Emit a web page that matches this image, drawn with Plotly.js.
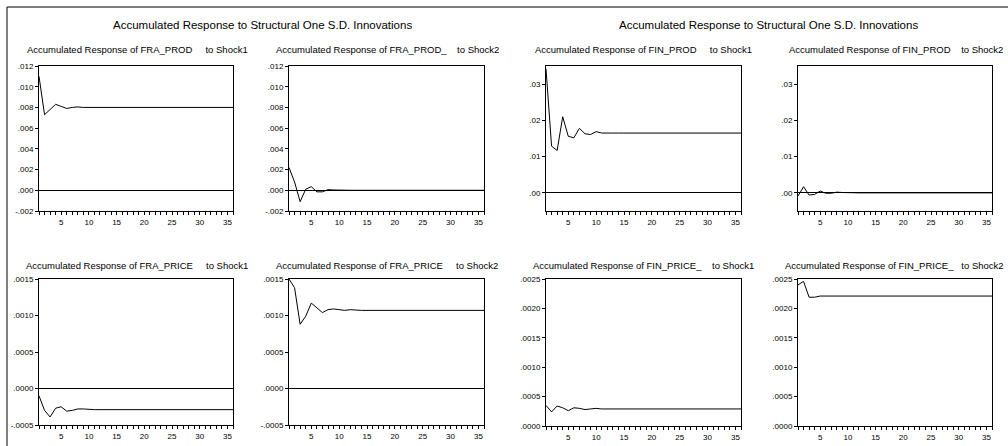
<!DOCTYPE html>
<html>
<head>
<meta charset="utf-8">
<script src="https://cdn.plot.ly/plotly-3.0.1.min.js"></script>
<style>
html,body{margin:0;padding:0;background:#fff;}
#chart{width:1008px;height:446px;}
</style>
</head>
<body>
<div id="chart"></div>
<script>
// ---------------- DATA ----------------
const periods = [1,2,3,4,5,6,7,8,9,10,11,12,13,14,15,16,17,18,19,20,21,22,23,24,25,26,27,28,29,30,31,32,33,34,35,36];

const fraProdShock1 = [0.0110,0.0073,0.0078,0.0083,0.0081,0.0079,0.0080,0.00805,0.0080,0.0080,0.0080,0.0080,0.0080,0.0080,0.0080,0.0080,0.0080,0.0080,0.0080,0.0080,0.0080,0.0080,0.0080,0.0080,0.0080,0.0080,0.0080,0.0080,0.0080,0.0080,0.0080,0.0080,0.0080,0.0080,0.0080,0.0080];
const fraProdShock2 = [0.0022,0.0008,-0.0011,0.0001,0.00035,-0.00015,-0.00015,0.00006,0.00003,0.0000,0.0000,0.0000,0.0000,0.0000,0.0000,0.0000,0.0000,0.0000,0.0000,0.0000,0.0000,0.0000,0.0000,0.0000,0.0000,0.0000,0.0000,0.0000,0.0000,0.0000,0.0000,0.0000,0.0000,0.0000,0.0000,0.0000];
const finProdShock1 = [0.0342,0.0129,0.0117,0.0210,0.0156,0.0152,0.0178,0.0163,0.0161,0.0169,0.0165,0.0164,0.0165,0.0165,0.0165,0.0165,0.0165,0.0165,0.0165,0.0165,0.0165,0.0165,0.0165,0.0165,0.0165,0.0165,0.0165,0.0165,0.0165,0.0165,0.0165,0.0165,0.0165,0.0165,0.0165,0.0165];
const finProdShock2 = [-0.0009,0.0017,-0.0006,-0.0004,0.0005,-0.0001,-0.0001,0.0002,0.0001,0.0000,0.0000,0.0000,0.0000,0.0000,0.0000,0.0000,0.0000,0.0000,0.0000,0.0000,0.0000,0.0000,0.0000,0.0000,0.0000,0.0000,0.0000,0.0000,0.0000,0.0000,0.0000,0.0000,0.0000,0.0000,0.0000,0.0000];
const fraPriceShock1 = [-0.00010,-0.00030,-0.00039,-0.00027,-0.00025,-0.00031,-0.00030,-0.00028,-0.00028,-0.00029,-0.00029,-0.00029,-0.00029,-0.00029,-0.00029,-0.00029,-0.00029,-0.00029,-0.00029,-0.00029,-0.00029,-0.00029,-0.00029,-0.00029,-0.00029,-0.00029,-0.00029,-0.00029,-0.00029,-0.00029,-0.00029,-0.00029,-0.00029,-0.00029,-0.00029,-0.00029];
const fraPriceShock2 = [0.00150,0.00138,0.00088,0.00099,0.00117,0.00110,0.00104,0.00108,0.00109,0.00108,0.00107,0.00108,0.00107,0.00107,0.00107,0.00107,0.00107,0.00107,0.00107,0.00107,0.00107,0.00107,0.00107,0.00107,0.00107,0.00107,0.00107,0.00107,0.00107,0.00107,0.00107,0.00107,0.00107,0.00107,0.00107,0.00107];
const finPriceShock1 = [0.00035,0.00024,0.00034,0.00031,0.00026,0.00031,0.00030,0.00028,0.00029,0.00030,0.00029,0.00029,0.00029,0.00029,0.00029,0.00029,0.00029,0.00029,0.00029,0.00029,0.00029,0.00029,0.00029,0.00029,0.00029,0.00029,0.00029,0.00029,0.00029,0.00029,0.00029,0.00029,0.00029,0.00029,0.00029,0.00029];
const finPriceShock2 = [0.00240,0.00246,0.00219,0.00219,0.00221,0.00221,0.00221,0.00221,0.00221,0.00221,0.00221,0.00221,0.00221,0.00221,0.00221,0.00221,0.00221,0.00221,0.00221,0.00221,0.00221,0.00221,0.00221,0.00221,0.00221,0.00221,0.00221,0.00221,0.00221,0.00221,0.00221,0.00221,0.00221,0.00221,0.00221,0.00221];

const mainTitle = "Accumulated Response to Structural One S.D. Innovations";
const panelTitles = [
  "Accumulated Response of FRA_PROD     to Shock1",
  "Accumulated Response of FRA_PROD_    to Shock2",
  "Accumulated Response of FIN_PROD     to Shock1",
  "Accumulated Response of FIN_PROD    to Shock2",
  "Accumulated Response of FRA_PRICE     to Shock1",
  "Accumulated Response of FRA_PRICE     to Shock2",
  "Accumulated Response of FIN_PRICE_    to Shock1",
  "Accumulated Response of FIN_PRICE_   to Shock2"
];

const xTickVals = [5,10,15,20,25,30,35];
const xTickText = ["5","10","15","20","25","30","35"];

const prodFraTickVals = [-0.002,0.000,0.002,0.004,0.006,0.008,0.010,0.012];
const prodFraTickText = ["-.002",".000",".002",".004",".006",".008",".010",".012"];
const prodFinTickVals = [0.00,0.01,0.02,0.03];
const prodFinTickText = [".00",".01",".02",".03"];
const priceFraTickVals = [-0.0005,0.0000,0.0005,0.0010,0.0015];
const priceFraTickText = ["-.0005",".0000",".0005",".0010",".0015"];
const priceFinTickVals = [0.0000,0.0005,0.0010,0.0015,0.0020,0.0025];
const priceFinTickText = [".0000",".0005",".0010",".0015",".0020",".0025"];

// ---------------- LAYOUT ----------------
const W = 1008, H = 446;
const px = v => v / W;
const py = v => 1 - v / H;

const series = [fraProdShock1, fraProdShock2, finProdShock1, finProdShock2,
                fraPriceShock1, fraPriceShock2, finPriceShock1, finPriceShock2];

const frames = [
  [39,233,66,211],[289,484,66,211],[546,741,66,211],[798,992,66,211],
  [39,233,279,425],[289,484,279,425],[546,741,279,426],[798,992,279,426]
];
const yRanges = [[-0.002,0.012],[-0.002,0.012],[-0.005,0.035],[-0.005,0.035],
                 [-0.0005,0.0015],[-0.0005,0.0015],[0,0.0025],[0,0.0025]];
const yTicks = [[prodFraTickVals,prodFraTickText],[prodFraTickVals,prodFraTickText],
                [prodFinTickVals,prodFinTickText],[prodFinTickVals,prodFinTickText],
                [priceFraTickVals,priceFraTickText],[priceFraTickVals,priceFraTickText],
                [priceFinTickVals,priceFinTickText],[priceFinTickVals,priceFinTickText]];
// [x, y, anchor]
const titlePos = [[137,50,"center"],[387,50,"center"],[643,50,"center"],[1005,50,"right"],
                  [137,265,"center"],[387,265,"center"],[643,265,"center"],[1006,265,"right"]];

const FONT = "Liberation Sans, Arial, Helvetica, sans-serif";
const traces = [];
const layout = {
  width: W, height: H,
  margin: {l:0,r:0,t:0,b:0},
  paper_bgcolor: "#fff", plot_bgcolor: "#fff",
  showlegend: false,
  font: {family: FONT, color: "#000", size: 8},
  annotations: [],
  shapes: [
    {type:"line", xref:"paper", yref:"paper", x0:px(7), x1:1, y0:py(7), y1:py(7), line:{color:"#000", width:1}},
    {type:"line", xref:"paper", yref:"paper", x0:px(7), x1:px(7), y0:py(7), y1:0, line:{color:"#000", width:1}}
  ]
};

series.forEach((s, i) => {
  const n = i + 1;
  const sfx = n === 1 ? "" : String(n);
  traces.push({
    x: periods, y: s, type: "scatter", mode: "lines",
    xaxis: "x" + sfx, yaxis: "y" + sfx,
    line: {color: "#000", width: 1}, hoverinfo: "skip"
  });
  const f = frames[i];
  layout["xaxis" + sfx] = {
    domain: [px(f[0]), px(f[1])], anchor: "y" + sfx,
    range: [1, 36], showgrid: false, zeroline: false,
    showline: true, mirror: true, linecolor: "#000", linewidth: 1,
    tickmode: "array", tickvals: xTickVals, ticktext: xTickText,
    ticks: "outside", ticklen: 3, tickwidth: 1, tickcolor: "#000",
    minor: {dtick: 1, tick0: 1, ticks: "outside", ticklen: 3, tickwidth: 1, tickcolor: "#000", showgrid: false},
    tickfont: {size: 8, family: FONT, color: "#000"}
  };
  layout["yaxis" + sfx] = {
    domain: [py(f[3]), py(f[2])], anchor: "x" + sfx,
    range: yRanges[i], showgrid: false,
    zeroline: true, zerolinecolor: "#000", zerolinewidth: 1,
    showline: true, mirror: true, linecolor: "#000", linewidth: 1,
    tickmode: "array", tickvals: yTicks[i][0], ticktext: yTicks[i][1],
    ticks: "outside", ticklen: 3, tickwidth: 1, tickcolor: "#000",
    tickfont: {size: 8, family: FONT, color: "#000"}
  };
  const t = titlePos[i];
  layout.annotations.push({
    xref: "paper", yref: "paper", x: px(t[0]), y: py(t[1]),
    xanchor: t[2], yanchor: "middle", showarrow: false,
    text: panelTitles[i].replace(/ {2,}/g, m => "&nbsp;".repeat(m.length)),
    font: {size: 9.5, family: FONT, color: "#000"}
  });
});

[[262,25],[768,25]].forEach(c => {
  layout.annotations.push({
    xref: "paper", yref: "paper", x: px(c[0]), y: py(c[1]),
    xanchor: "center", yanchor: "middle", showarrow: false,
    text: mainTitle, font: {size: 11.5, family: FONT, color: "#000"}
  });
});

Plotly.newPlot("chart", traces, layout, {staticPlot: true, displayModeBar: false});
</script>
</body>
</html>
